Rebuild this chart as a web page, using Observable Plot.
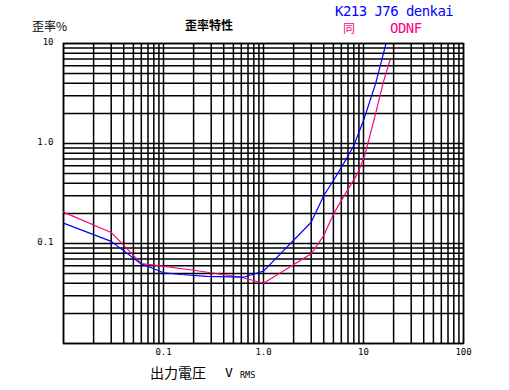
<!DOCTYPE html>
<html><head><meta charset="utf-8">
<script src="https://cdn.jsdelivr.net/npm/d3@7"></script>
<script src="https://cdn.jsdelivr.net/npm/@observablehq/plot@0.6"></script>
<style>
body{margin:0;background:#ffffff;}
#wrap{position:relative;width:509px;height:390px;overflow:hidden;}
.t{position:absolute;white-space:pre;line-height:1;}
.cjk{font-family:"Noto Sans CJK JP",sans-serif;}
.mono{font-family:"DejaVu Sans Mono",monospace;}
</style></head><body><div id="wrap"></div>
<script>
// Series: K213 J76 denkai (blue)
const blueX = [0.01, 0.03, 0.059, 0.1, 0.15, 0.27, 0.63, 1.0, 3.0, 4.0, 5.25, 6.9, 8.0, 10.0, 13.2, 16.8];
const blueY = [0.16, 0.105, 0.063, 0.051, 0.049, 0.047, 0.046, 0.053, 0.163, 0.30, 0.46, 0.73, 0.955, 1.7, 3.95, 10.0];
// Series: 同 ODNF (pink)
const pinkX = [0.01, 0.03, 0.06, 0.089, 0.2, 0.6, 1.0, 3.0, 4.0, 5.05, 6.6, 8.7, 10.3, 12.7, 16.0, 18.4];
const pinkY = [0.206, 0.129, 0.063, 0.060, 0.054, 0.046, 0.040, 0.079, 0.12, 0.20, 0.315, 0.50, 0.76, 1.7, 4.3, 6.8];

const seriesNames = ["K213 J76 denkai", "同", "ODNF"];
const xDecades = [0.01, 0.1, 1, 10];
const yDecades = [0.01, 0.1, 1];
const multipliers = [1, 2, 3, 4, 5, 6, 7, 8, 9];
const xTickValues = [0.1, 1, 10, 100];
const xTickLabels = ["0.1", "1.0", "10", "100"];
const yTickValues = [0.1, 1, 10];
const yTickLabels = ["0.1", "1.0", "10"];
const titleText = "歪率特性";
const yLabelText = "歪率%";
const xLabelText = "出力電圧";

const xGrid = xDecades.flatMap(d => multipliers.map(m => d * m)).concat([100]);
const yGrid = yDecades.flatMap(d => multipliers.map(m => d * m)).concat([10]);
const blue = blueX.map((x, i) => ({x, y: blueY[i]}));
const pink = pinkX.map((x, i) => ({x, y: pinkY[i]}));

const chart = Plot.plot({
  width: 509, height: 390,
  marginTop: 43, marginLeft: 63, marginRight: 46, marginBottom: 47,
  x: {type: "log", domain: [0.01, 100]},
  y: {type: "log", domain: [0.01, 10]},
  style: {background: "transparent", fontFamily: "DejaVu Sans Mono", fontSize: "9px", color: "black"},
  marks: [
    Plot.ruleX(xGrid, {stroke: "black", strokeWidth: 1.5}),
    Plot.ruleY(yGrid, {stroke: "black", strokeWidth: 1.5}),
    Plot.frame({stroke: "black", strokeWidth: 1.5}),
    Plot.line(pink, {x: "x", y: "y", stroke: "#ff0080", strokeWidth: 1.2, clip: true}),
    Plot.line(blue, {x: "x", y: "y", stroke: "#0000ff", strokeWidth: 1.2, clip: true}),
    Plot.axisX({ticks: xTickValues, tickFormat: d => xTickLabels[xTickValues.indexOf(d)], tickSize: 0, tickPadding: 5, label: null}),
    Plot.axisY({ticks: yTickValues, tickFormat: d => yTickLabels[yTickValues.indexOf(d)], tickSize: 0, tickPadding: 10, label: null, dy: -1})
  ]
});
const wrap = document.getElementById("wrap");
wrap.appendChild(chart);

function addText(txt, cls, css) {
  const el = document.createElement("div");
  el.className = "t " + cls;
  el.textContent = txt;
  Object.assign(el.style, css);
  wrap.appendChild(el);
}
addText(yLabelText, "cjk", {left: "32px", top: "20px", fontSize: "12px", color: "#000"});
addText(titleText, "cjk", {left: "185px", top: "19px", fontSize: "12px", fontWeight: "bold", color: "#000"});
addText(seriesNames[0], "mono", {left: "335px", top: "4px", fontSize: "14px", letterSpacing: "-0.55px", color: "#0000ff"});
addText(seriesNames[1], "cjk", {left: "343px", top: "22px", fontSize: "12px", color: "#ff0080"});
addText(seriesNames[2], "mono", {left: "390px", top: "21px", fontSize: "14px", letterSpacing: "-0.55px", color: "#ff0080"});
addText(xLabelText, "cjk", {left: "150px", top: "365px", fontSize: "14px", color: "#000"});
addText("V", "mono", {left: "225px", top: "366px", fontSize: "13px", color: "#000"});
addText("RMS", "mono", {left: "240px", top: "371px", fontSize: "8.5px", color: "#000"});
</script></body></html>
